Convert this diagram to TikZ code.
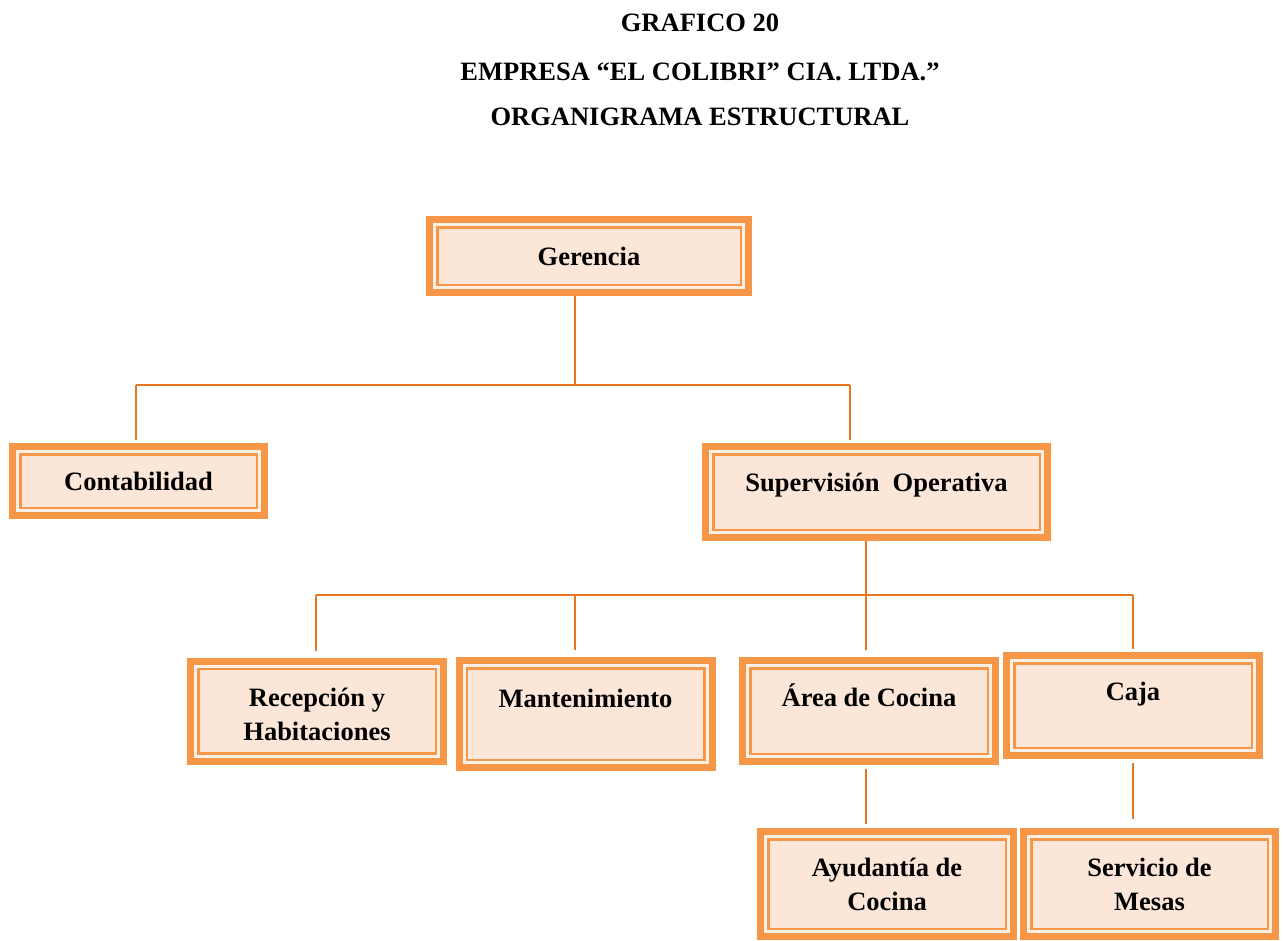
\documentclass[tikz,border=0pt]{standalone}
\usepackage{fontspec}
\setmainfont{Liberation Serif}
\definecolor{band}{HTML}{F79646}
\definecolor{gap}{HTML}{FDF0E7}
\definecolor{boxfill}{HTML}{FBE6D8}
\definecolor{linkcol}{HTML}{E8761E}
\begin{document}
\begin{tikzpicture}[x=1pt,y=-1pt,
  orgbox/.style={rectangle, fill=band, draw=none, inner sep=0pt, outer sep=0pt,
    align=center, font=\bfseries\fontsize{26.5}{34}\selectfont,
    path picture={
      \fill[gap] ([shift={(7pt,7pt)}]path picture bounding box.south west)
        rectangle ([shift={(-7pt,-7pt)}]path picture bounding box.north east);
      \fill[band] ([shift={(10pt,10pt)}]path picture bounding box.south west)
        rectangle ([shift={(-10pt,-10pt)}]path picture bounding box.north east);
      \fill[boxfill] ([shift={(12.5pt,12.5pt)}]path picture bounding box.south west)
        rectangle ([shift={(-12.5pt,-12.5pt)}]path picture bounding box.north east);
    }},
  title/.style={anchor=base, font=\bfseries\fontsize{26.5}{32}\selectfont},
  link/.style={draw=linkcol, line width=1.7pt}]
\useasboundingbox (0,0) rectangle (1284,940);

% headings
\node[title] (t1) at (700,31) {GRAFICO 20};
\node[title] (t2) at (700,80) {EMPRESA “EL COLIBRI” CIA. LTDA.”};
\node[title] (t3) at (700,125) {ORGANIGRAMA ESTRUCTURAL};

% boxes
\node[orgbox, minimum width=326, minimum height=80] (ger) at (589,256) {Gerencia};
\node[orgbox, minimum width=259, minimum height=76] (con) at (138.5,481) {Contabilidad};
\node[orgbox, minimum width=349, minimum height=98] (sup) at (876.5,492) {\raisebox{19pt}{Supervisión\ \ Operativa}};
\node[orgbox, minimum width=260, minimum height=107] (rec) at (317,711) {\\[-9pt]Recepción y\\Habitaciones};
\node[orgbox, minimum width=260, minimum height=114] (man) at (585.5,714) {\raisebox{31pt}{Mantenimiento}};
\node[orgbox, minimum width=260, minimum height=108] (are) at (869,711) {\raisebox{31pt}{Área de Cocina}};
\node[orgbox, minimum width=260, minimum height=107] (caj) at (1133,705.5) {\raisebox{28pt}{Caja}};
\node[orgbox, minimum width=260, minimum height=112] (ayu) at (887,884) {Ayudantía de\\Cocina};
\node[orgbox, minimum width=259, minimum height=112] (ser) at (1149.5,884) {Servicio de\\Mesas};

% first level bus
\coordinate (a0) at (136,385);
\coordinate (a1) at (575,385);
\coordinate (a2) at (850,385);
\draw[link] (ger.south -| a1) -- (a1);
\draw[link] (a0) -- (a2);
\draw[link, shorten >=3pt] (a0) -- (a0 |- con.north);
\draw[link, shorten >=3pt] (a2) -- (a2 |- sup.north);

% second level bus
\coordinate (b0) at (316,595);
\coordinate (b1) at (575,595);
\coordinate (b2) at (866,595);
\coordinate (b3) at (1133,595);
\draw[link] (sup.south -| b2) -- (b2);
\draw[link] (b0) -- (b3);
\draw[link, shorten >=7pt] (b0) -- (b0 |- rec.north);
\draw[link, shorten >=7pt] (b1) -- (b1 |- man.north);
\draw[link, shorten >=7pt] (b2) -- (b2 |- are.north);
\draw[link, shorten >=3pt] (b3) -- (b3 |- caj.north);

% third level
\coordinate (c1) at (866,800);
\coordinate (c2) at (1133,800);
\draw[link, shorten <=4pt, shorten >=4pt] (c1 |- are.south) -- (c1 |- ayu.north);
\draw[link, shorten <=4pt, shorten >=9pt] (c2 |- caj.south) -- (c2 |- ser.north);
\end{tikzpicture}
\end{document}
